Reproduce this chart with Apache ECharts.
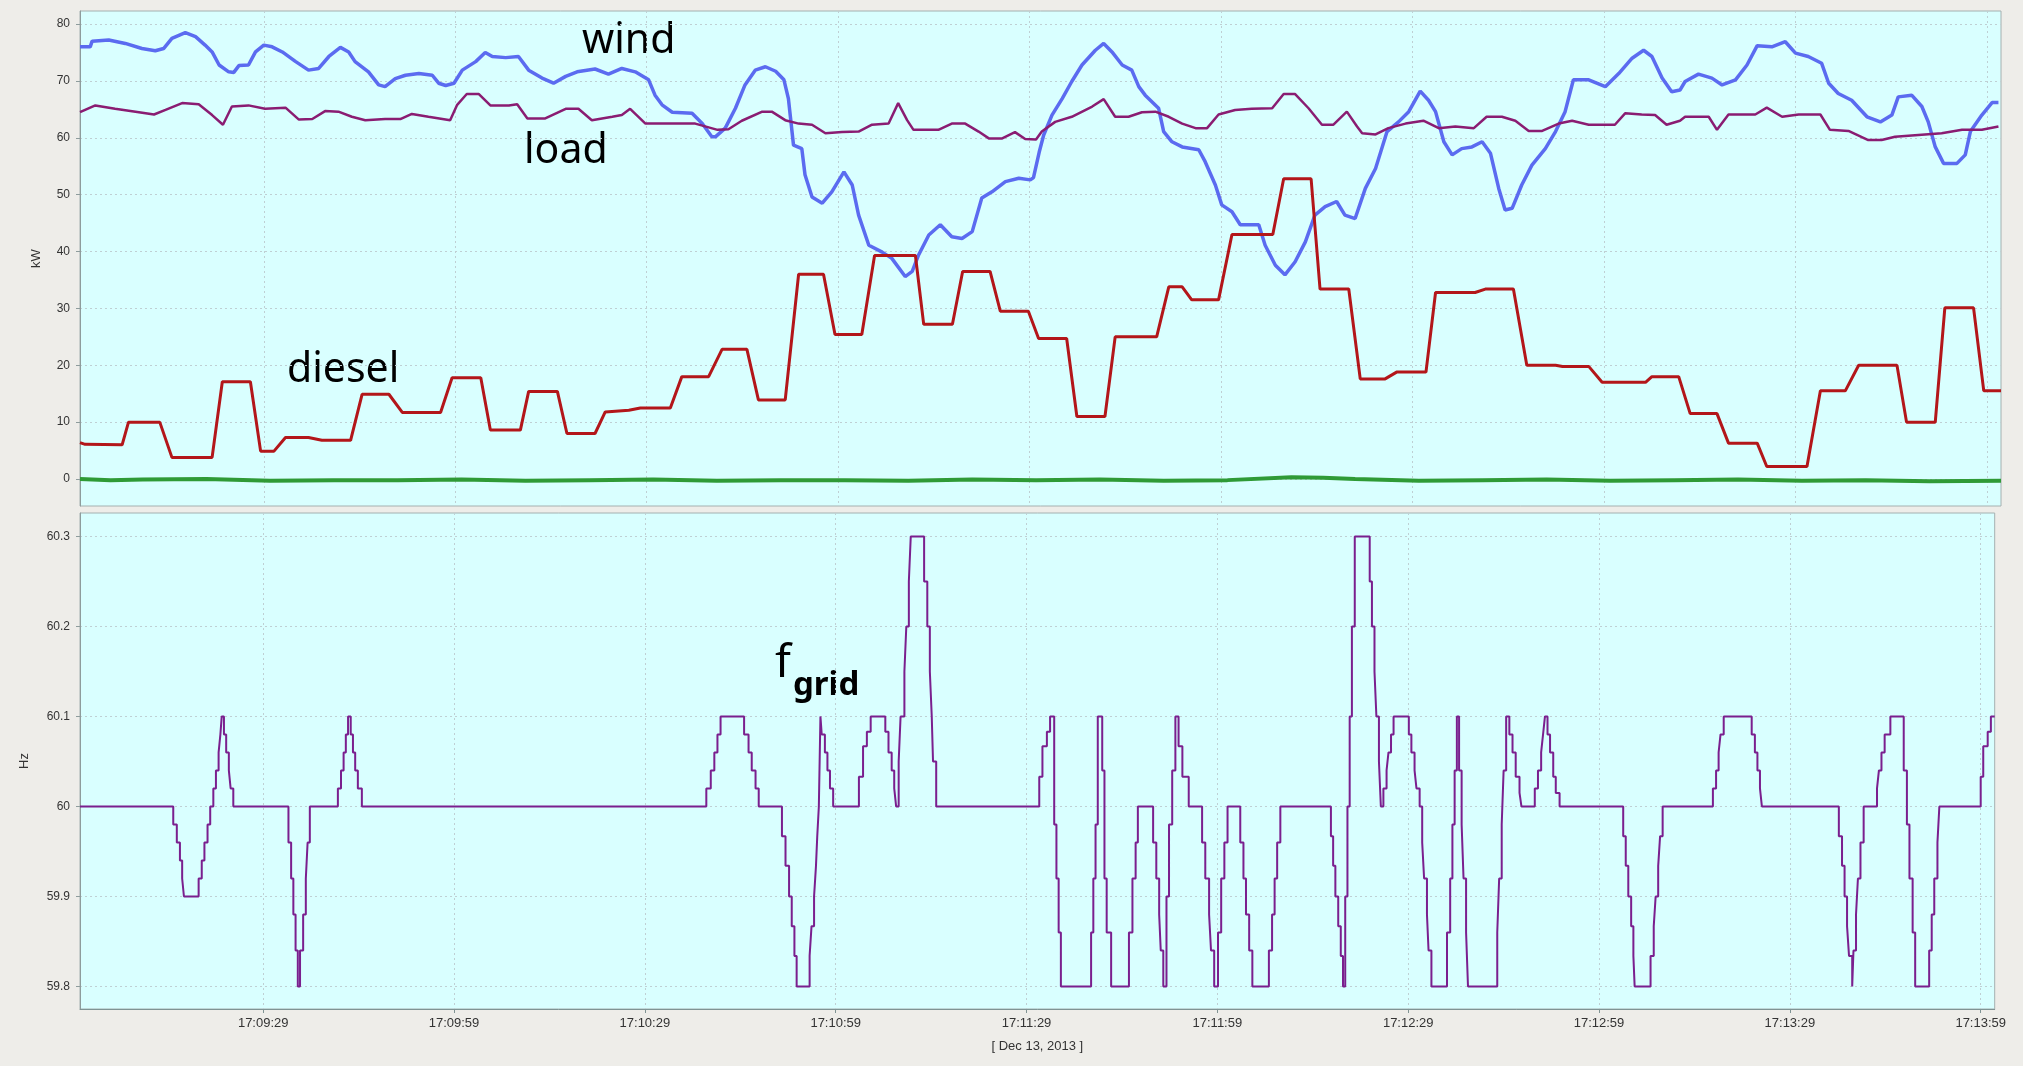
<!DOCTYPE html>
<html>
<head>
<meta charset="utf-8">
<script src="https://cdn.jsdelivr.net/npm/echarts@6/dist/echarts.min.js"></script>
<style>
  html, body { margin: 0; padding: 0; background: #eeede9; overflow: hidden; }
  #chart { width: 2009px; height: 1066px; }
</style>
</head>
<body>
<div id="chart"></div>
<script>
// Time is in seconds after 17:09:00 on Dec 13, 2013.
const xTicks = [29, 59, 89, 119, 149, 179, 209, 239, 269, 299];
const kwTicks = [0, 10, 20, 30, 40, 50, 60, 70, 80];
const hzTicks = [59.8, 59.9, 60, 60.1, 60.2, 60.3];

// Wind power, kW  [t, value]
const wind = [
  [0.2,76.0],[1.8,76.0],[2.1,77.0],[4.7,77.2],[7.3,76.6],[9.9,75.7],[12.0,75.3],[13.3,75.7],[14.6,77.5],[16.7,78.5],
  [18.3,77.8],[19.8,76.3],[20.9,75.1],[22.0,72.8],[23.5,71.6],[24.3,71.5],[25.1,72.7],[26.6,72.8],[27.7,75.1],[29.0,76.3],
  [30.3,76.0],[31.9,75.1],[34.0,73.4],[36.0,71.9],[37.6,72.2],[39.2,74.3],[41.0,75.9],[42.3,75.1],[43.3,73.4],[45.4,71.6],
  [47.0,69.3],[48.0,69.0],[49.6,70.4],[51.2,71.0],[53.3,71.3],[55.4,71.0],[56.4,69.6],[57.5,69.2],[58.8,69.6],[60.1,71.9],
  [62.2,73.4],[63.7,75.0],[64.8,74.3],[66.9,74.1],[68.9,74.3],[70.5,71.9],[72.6,70.5],[74.4,69.6],[76.3,70.8],[78.1,71.6],
  [80.9,72.1],[83.0,71.2],[85.1,72.2],[87.2,71.6],[89.3,70.2],[90.3,67.5],[91.4,65.8],[93.0,64.5],[96.1,64.3],[97.7,62.5],
  [99.2,60.2],[99.8,60.2],[101.3,61.7],[102.9,65.2],[104.4,69.3],[106.0,71.9],[107.6,72.5],[109.2,71.7],[110.5,70.2],[111.2,66.9],
  [112.0,58.7],[113.3,58.1],[113.8,53.5],[114.9,49.6],[116.5,48.5],[118.0,50.5],[119.9,54.0],[121.2,51.7],[122.2,46.4],[123.8,41.1],
  [125.9,39.9],[127.4,38.8],[129.5,35.6],[130.6,36.5],[131.6,39.4],[133.2,42.9],[135.0,44.7],[136.8,42.6],[138.4,42.3],[140.0,43.5],
  [141.5,49.4],[143.1,50.5],[145.2,52.3],[147.3,52.9],[149.1,52.6],[149.6,53.0],[150.5,57.5],[151.2,60.5],[152.5,64.0],[154.1,66.9],
  [155.6,69.9],[157.2,72.8],[159.3,75.4],[160.6,76.6],[161.9,75.1],[163.5,72.8],[165.0,71.9],[166.1,69.0],[167.1,67.5],[169.2,65.2],
  [170.0,61.1],[171.3,59.3],[172.9,58.4],[175.5,57.9],[176.5,55.8],[178.1,51.7],[179.1,48.2],[180.7,47.0],[182.0,44.7],[184.9,44.7],
  [185.9,41.1],[187.5,37.6],[189.0,35.9],[190.6,38.2],[192.2,41.7],[193.7,46.4],[195.3,47.9],[197.1,48.8],[198.4,46.4],[200.0,45.8],
  [201.6,51.1],[203.2,54.6],[205.0,61.1],[206.8,62.8],[208.4,64.6],[210.2,68.2],[211.5,66.6],[212.6,64.6],[213.9,59.3],[215.2,57.0],
  [216.7,58.1],[218.3,58.4],[219.9,59.3],[221.2,57.3],[222.5,51.1],[223.5,47.3],[224.6,47.6],[226.1,51.7],[227.7,55.2],[229.8,58.1],
  [231.4,61.1],[232.9,64.6],[234.2,70.2],[236.6,70.2],[239.2,69.0],[241.3,71.3],[243.4,74.0],[245.2,75.4],[246.5,74.3],[248.1,70.5],
  [249.6,68.1],[250.9,68.4],[251.7,69.9],[253.8,71.2],[255.9,70.5],[257.5,69.3],[259.6,70.2],[261.4,72.8],[263.0,76.2],[265.3,76.0],
  [267.4,76.9],[269.0,74.9],[271.0,74.3],[273.1,73.1],[274.2,69.6],[275.7,67.8],[277.8,66.6],[280.2,63.7],[282.3,62.8],[284.1,64.0],
  [285.1,67.2],[287.2,67.5],[288.8,65.5],[289.8,62.8],[290.9,58.4],[292.2,55.5],[294.3,55.5],[295.6,57.0],[296.4,61.1],[298.2,64.0],
  [299.8,66.2],[300.8,66.2]
];

// Load, kW
const load = [
  [0.2,64.5],[2.6,65.7],[5.7,65.1],[8.9,64.6],[11.8,64.1],[13.6,64.9],[16.2,66.1],[18.8,65.9],[20.9,64.0],[22.6,62.3],
  [24.0,65.5],[26.6,65.7],[29.2,65.1],[32.4,65.3],[34.5,63.2],[36.6,63.3],[38.6,64.7],[40.7,64.6],[42.8,63.7],[44.9,63.1],
  [48.0,63.3],[50.4,63.3],[52.2,64.2],[54.8,63.7],[58.2,63.1],[59.3,65.8],[60.8,67.7],[62.7,67.7],[64.5,65.7],[67.4,65.7],
  [68.7,65.9],[70.3,63.4],[73.1,63.4],[76.3,65.1],[78.3,65.1],[80.4,63.1],[83.6,63.7],[85.1,64.0],[86.4,65.1],[88.8,62.5],
  [91.4,62.5],[96.6,62.5],[100.1,61.4],[101.8,61.5],[103.9,63.0],[107.1,64.6],[108.6,64.6],[110.7,63.1],[112.8,62.5],[114.9,62.3],
  [117.0,60.8],[119.6,61.0],[122.2,61.1],[124.3,62.3],[126.9,62.5],[128.4,66.1],[129.8,63.1],[130.8,61.4],[134.7,61.4],[136.8,62.5],
  [138.9,62.5],[141.0,61.1],[142.6,59.9],[144.7,59.9],[146.7,61.0],[148.3,59.8],[150.0,59.7],[150.9,61.1],[153.0,62.8],[155.6,63.7],
  [158.8,65.5],[160.6,66.8],[162.4,63.7],[164.5,63.7],[166.6,64.5],[168.7,64.6],[170.8,63.7],[172.9,62.5],[175.0,61.7],[176.8,61.7],
  [178.6,64.1],[181.2,64.9],[183.8,65.1],[187.0,65.2],[188.8,67.7],[190.6,67.7],[192.7,65.2],[194.8,62.3],[196.6,62.3],[198.7,64.6],
  [200.3,62.0],[201.1,60.8],[203.2,60.6],[205.2,61.7],[207.9,62.5],[210.7,63.0],[213.1,61.7],[215.7,62.0],[218.6,61.7],[220.6,63.7],
  [223.0,63.7],[225.1,63.0],[227.2,61.2],[229.3,61.2],[231.9,62.5],[234.0,63.0],[236.6,62.3],[240.7,62.3],[242.3,64.3],[244.9,64.1],
  [247.0,64.0],[248.8,62.3],[250.9,63.0],[251.7,63.7],[255.4,63.7],[256.7,61.4],[258.5,64.1],[262.7,64.1],[264.5,65.3],[266.9,63.7],
  [269.5,64.1],[272.9,64.1],[274.4,61.4],[277.3,61.2],[280.4,59.6],[282.5,59.6],[284.6,60.2],[289.3,60.6],[291.9,60.8],[295.1,61.4],
  [298.2,61.4],[300.8,62.0]
];

// Diesel generator output, kW
const diesel = [
  [0.2,6.4],[1.0,6.1],[6.8,6.0],[7.8,10.0],[12.7,10.0],[14.6,3.8],[20.9,3.8],[22.5,17.1],[26.9,17.1],[28.5,4.9],
  [30.6,4.9],[32.4,7.3],[36.0,7.3],[38.1,6.8],[42.6,6.8],[44.4,14.9],[48.6,14.9],[50.7,11.7],[56.7,11.7],[58.5,17.8],
  [63.0,17.8],[64.5,8.6],[69.2,8.6],[70.5,15.4],[75.0,15.4],[76.5,8.0],[80.9,8.0],[82.5,11.8],[86.2,12.1],[88.0,12.5],
  [92.7,12.5],[94.5,18.0],[98.7,18.0],[100.8,22.8],[104.7,22.8],[106.5,13.9],[110.7,13.9],[112.8,36.0],[116.7,36.0],[118.5,25.4],
  [122.7,25.4],[124.7,39.3],[131.1,39.3],[132.4,27.2],[136.9,27.2],[138.5,36.5],[142.8,36.5],[144.4,29.5],[148.8,29.5],[150.4,24.7],
  [154.8,24.7],[156.4,11.0],[160.8,11.0],[162.4,25.0],[168.9,25.0],[170.8,33.8],[172.9,33.8],[174.4,31.5],[178.6,31.5],[180.7,43.0],
  [187.1,43.0],[188.8,52.8],[193.1,52.8],[194.5,33.4],[199.0,33.4],[200.8,17.6],[204.7,17.6],[206.5,18.8],[211.1,18.8],[212.6,32.8],
  [218.8,32.8],[220.4,33.4],[224.8,33.4],[226.9,20.0],[231.4,20.0],[232.5,19.8],[236.6,19.8],[238.7,17.0],[245.5,17.0],[246.5,18.0],
  [250.7,18.0],[252.5,11.5],[256.7,11.5],[258.5,6.3],[263.0,6.3],[264.5,2.2],[270.8,2.2],[272.9,15.5],[276.8,15.5],[278.9,20.0],
  [284.9,20.0],[286.4,10.0],[290.9,10.0],[292.4,30.1],[296.9,30.1],[298.5,15.5],[301.2,15.5]
];

// Storage / dump load, kW (stays near zero)
const storage = [
  [0.2,0.0],[5,-0.2],[10,-0.1],[20,0.0],[30,-0.3],[40,-0.2],[50,-0.2],[60,-0.1],[70,-0.3],[80,-0.2],
  [90,-0.1],[100,-0.3],[110,-0.2],[120,-0.2],[130,-0.3],[140,-0.1],[150,-0.2],[160,-0.1],[170,-0.3],[180,-0.2],
  [190,0.3],[195,0.2],[200,0.0],[210,-0.3],[220,-0.2],[230,-0.1],[240,-0.3],[250,-0.2],[260,-0.1],[270,-0.3],
  [280,-0.2],[290,-0.4],[301.2,-0.3]
];

// Grid frequency, Hz (value holds from t until the next sample)
const fgrid = [
  [0.2,60.00],
  [14.86,59.98],[15.42,59.96],[15.91,59.94],[16.26,59.92],[16.54,59.90],
  [18.85,59.92],[19.34,59.94],[19.76,59.96],[20.25,59.98],[20.67,60.00],[21.16,60.02],[21.57,60.04],[21.99,60.06],[22.27,60.08],[22.48,60.10],
  [22.83,60.08],[23.18,60.06],[23.60,60.04],[23.88,60.02],[24.30,60.00],
  [32.97,59.96],[33.39,59.92],[33.74,59.88],[34.09,59.84],[34.44,59.80],[34.79,59.84],[35.28,59.88],[35.70,59.92],[35.98,59.96],[36.33,60.00],
  [40.74,60.02],[41.23,60.04],[41.64,60.06],[41.99,60.08],[42.34,60.10],[42.76,60.08],[43.11,60.06],[43.46,60.04],[43.88,60.02],[44.51,60.00],
  [98.66,60.02],[99.36,60.04],[99.92,60.06],[100.41,60.08],[100.90,60.10],[104.6,60.08],[105.3,60.06],[105.8,60.04],[106.4,60.02],[106.9,60.00],
  [110.55,59.967],[111.11,59.934],[111.67,59.90],[112.09,59.867],[112.51,59.834],[112.86,59.80],
  [114.9,59.834],[115.2,59.867],[115.6,59.90],[115.9,59.934],[116.1,59.967],[116.35,60.00],[116.6,60.10],
  [116.8,60.08],[117.3,60.06],[117.7,60.04],[118.1,60.02],[118.6,60.00],
  [122.65,60.033],[123.3,60.067],[123.9,60.083],[124.5,60.10],[126.8,60.083],[127.3,60.06],[127.8,60.04],[128.2,60.02],[128.5,60.00],
  [128.9,60.05],[129.2,60.10],[129.8,60.15],[130.1,60.20],[130.5,60.25],[130.8,60.30],
  [132.9,60.25],[133.4,60.20],[133.8,60.15],[134.1,60.10],[134.3,60.05],[134.8,60.00],
  [151.0,60.033],[151.5,60.067],[152.2,60.083],[152.7,60.10],[153.35,59.98],[153.7,59.92],[154.05,59.86],[154.4,59.80],
  [159.15,59.86],[159.5,59.92],[159.85,59.98],[160.2,60.10],[160.9,60.04],[161.25,59.92],[161.6,59.86],[162.3,59.80],
  [165.1,59.86],[165.65,59.92],[166.15,59.96],[166.5,60.00],[168.9,59.96],[169.4,59.92],[169.85,59.88],[170.1,59.84],[170.5,59.80],
  [171.0,59.90],[171.4,59.98],[171.9,60.04],[172.4,60.10],[172.9,60.067],[173.5,60.033],[174.5,60.00],
  [176.6,59.96],[177.1,59.92],[177.7,59.88],[178.0,59.84],[178.5,59.80],[179.1,59.86],[179.6,59.92],[180.1,59.96],[180.6,60.00],
  [182.6,59.96],[183.1,59.92],[183.5,59.88],[184.0,59.84],[184.5,59.80],[187.1,59.84],[187.6,59.88],[188.0,59.92],[188.4,59.96],[188.9,60.00],
  [196.85,59.967],[197.2,59.934],[197.55,59.90],[198.0,59.867],[198.4,59.834],[198.75,59.80],[199.1,59.90],[199.45,60.00],[199.8,60.10],
  [200.15,60.20],[200.6,60.30],[202.95,60.25],[203.3,60.20],[203.7,60.15],[204.0,60.10],[204.4,60.05],[204.7,60.00],
  [205.1,60.02],[205.6,60.04],[205.9,60.06],[206.3,60.08],[206.7,60.10],[209.1,60.08],[209.5,60.06],[210.0,60.04],[210.3,60.02],[210.8,60.00],
  [211.2,59.96],[211.5,59.92],[211.95,59.88],[212.2,59.84],[212.65,59.80],
  [215.1,59.86],[215.6,59.92],[215.95,59.98],[216.3,60.04],[216.65,60.10],[217.0,60.04],[217.4,59.98],[217.7,59.92],[218.1,59.86],[218.4,59.80],
  [223.0,59.86],[223.3,59.92],[223.7,59.98],[224.0,60.04],[224.4,60.10],[224.9,60.08],[225.4,60.06],[225.9,60.033],[226.5,60.015],[226.8,60.00],
  [228.9,60.02],[229.4,60.04],[229.9,60.06],[230.2,60.08],[230.5,60.10],[230.9,60.08],[231.3,60.06],[231.8,60.033],[232.2,60.015],[232.8,60.00],
  [242.8,59.967],[243.2,59.934],[243.6,59.90],[244.05,59.867],[244.4,59.834],[244.6,59.80],
  [247.1,59.834],[247.6,59.867],[247.9,59.90],[248.3,59.934],[248.6,59.967],[249.0,60.00],
  [256.9,60.02],[257.4,60.04],[257.8,60.06],[258.1,60.08],[258.6,60.10],[263.0,60.08],[263.5,60.06],[263.9,60.04],[264.3,60.02],[264.6,60.00],
  [276.7,59.967],[277.2,59.934],[277.6,59.90],[277.99,59.867],[278.3,59.834],[278.8,59.80],[279.0,59.84],[279.4,59.88],[279.7,59.92],[280.1,59.96],[280.6,60.00],
  [282.7,60.02],[283.0,60.04],[283.4,60.06],[283.9,60.08],[284.8,60.10],[286.9,60.04],[287.4,59.98],[287.8,59.92],[288.3,59.86],[288.7,59.80],
  [290.9,59.84],[291.3,59.88],[291.7,59.92],[292.2,59.96],[292.5,60.00],
  [299.0,60.033],[299.4,60.067],[300.1,60.083],[300.6,60.10],[301.2,60.10]
];

const T_MIN = 0.2, T_MAX = 301.2;
const LABEL_FONT = 'Liberation Sans, Arial, sans-serif';
const TEXT_COLOR = '#333333';
const GRID_LINE = { color: '#bfcfd3', width: 1, type: [2, 3] };

function clock(t) {
  const s = 17 * 3600 + 9 * 60 + Math.round(t);
  const h = Math.floor(s / 3600);
  const m = Math.floor((s % 3600) / 60);
  const ss = s % 60;
  return h + ':' + String(m).padStart(2, '0') + ':' + String(ss).padStart(2, '0');
}

function valueAxisY(gridIndex, min, max, ticks, name, nameGap) {
  return {
    type: 'value', gridIndex, min, max,
    name, nameLocation: 'middle', nameGap,
    nameTextStyle: { fontFamily: LABEL_FONT, fontSize: 13, color: TEXT_COLOR },
    axisLine: { show: true, lineStyle: { color: '#8e9c9c', width: 1 } },
    axisTick: { show: true, length: 4, customValues: ticks, lineStyle: { color: '#8e9c9c' } },
    axisLabel: { customValues: ticks, margin: 10, fontFamily: LABEL_FONT, fontSize: 12, color: TEXT_COLOR },
    splitLine: { show: true, lineStyle: GRID_LINE }
  };
}

const chart = echarts.init(document.getElementById('chart'), null, { renderer: 'canvas' });

chart.setOption({
  animation: false,
  backgroundColor: '#eeede9',
  grid: [
    { left: 80, top: 11, width: 1921, height: 495, show: true, backgroundColor: '#d9ffff', borderColor: '#a4b0b0', borderWidth: 1 },
    { left: 80, top: 513, width: 1921, height: 496, show: true, backgroundColor: '#d9ffff', borderColor: '#a4b0b0', borderWidth: 1 }
  ],
  xAxis: [
    {
      type: 'value', gridIndex: 0, min: T_MIN, max: T_MAX,
      axisLine: { show: false },
      axisTick: { show: false, customValues: xTicks },
      axisLabel: { show: false, customValues: xTicks },
      splitLine: { show: true, lineStyle: GRID_LINE }
    },
    {
      type: 'value', gridIndex: 1, min: T_MIN, max: T_MAX,
      name: '[ Dec 13, 2013 ]', nameLocation: 'middle', nameGap: 31,
      nameTextStyle: { fontFamily: LABEL_FONT, fontSize: 13, color: TEXT_COLOR },
      axisLine: { show: true, lineStyle: { color: '#7f9393', width: 1 } },
      axisTick: { show: true, length: 4, customValues: xTicks, lineStyle: { color: '#7f9393' } },
      axisLabel: { customValues: xTicks, margin: 8, fontFamily: LABEL_FONT, fontSize: 13, color: TEXT_COLOR, formatter: clock },
      splitLine: { show: true, lineStyle: GRID_LINE }
    }
  ],
  yAxis: [
    valueAxisY(0, -4.75, 82.3, kwTicks, 'kW', 37),
    valueAxisY(1, 59.775, 60.326, hzTicks, 'Hz', 49)
  ],
  series: [
    { name: 'wind', type: 'line', xAxisIndex: 0, yAxisIndex: 0, data: wind, showSymbol: false,
      lineStyle: { color: '#5b6bf0', width: 3.5 } },
    { name: 'load', type: 'line', xAxisIndex: 0, yAxisIndex: 0, data: load, showSymbol: false,
      lineStyle: { color: '#8a1c72', width: 2.5 } },
    { name: 'diesel', type: 'line', xAxisIndex: 0, yAxisIndex: 0, data: diesel, showSymbol: false,
      lineStyle: { color: '#b3161a', width: 3 } },
    { name: 'storage', type: 'line', xAxisIndex: 0, yAxisIndex: 0, data: storage, showSymbol: false,
      lineStyle: { color: '#2f9a36', width: 4 } },
    { name: 'fgrid', type: 'line', step: 'end', xAxisIndex: 1, yAxisIndex: 1, data: fgrid, showSymbol: false,
      lineStyle: { color: '#7a1f8e', width: 2 } }
  ],
  graphic: [
    { type: 'text', x: 582, y: 41, style: { text: 'wind', fontFamily: 'Noto Sans', fontSize: 41, fill: '#000', align: 'left', verticalAlign: 'middle' } },
    { type: 'text', x: 524, y: 151, style: { text: 'load', fontFamily: 'Noto Sans', fontSize: 41, fill: '#000', align: 'left', verticalAlign: 'middle' } },
    { type: 'text', x: 287, y: 370, style: { text: 'diesel', fontFamily: 'Noto Sans', fontSize: 41, fill: '#000', align: 'left', verticalAlign: 'middle' } },
    { type: 'text', x: 775, y: 664, style: { text: 'f', fontFamily: 'Noto Sans', fontSize: 46, fill: '#000', align: 'left', verticalAlign: 'middle' } },
    { type: 'text', x: 793, y: 686, style: { text: 'grid', fontFamily: 'Noto Sans', fontWeight: 'bold', fontSize: 33, fill: '#000', align: 'left', verticalAlign: 'middle' } }
  ]
});
</script>
</body>
</html>
